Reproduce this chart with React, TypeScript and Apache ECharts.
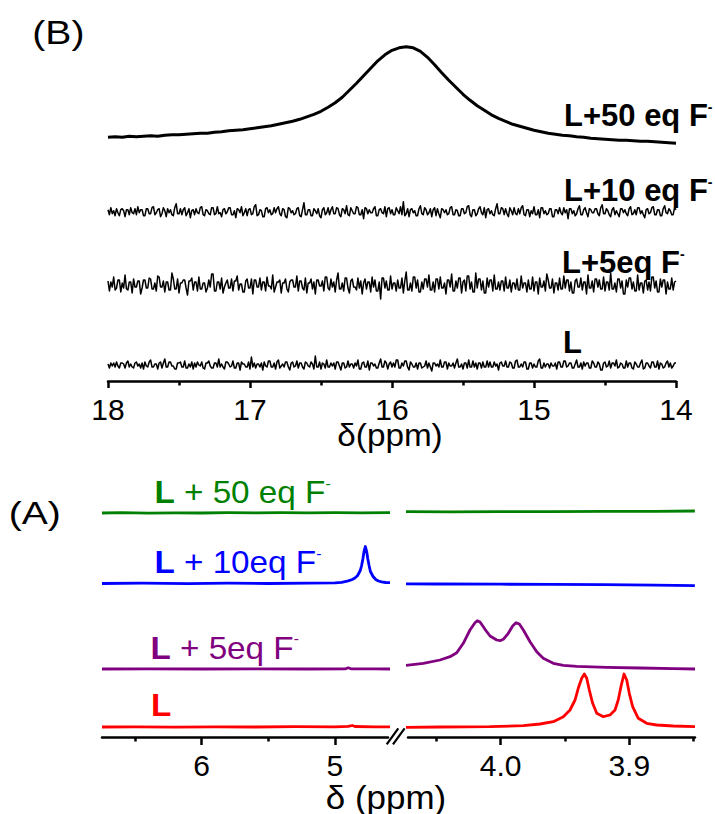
import React, { useEffect, useRef } from "react";
import * as echarts from "echarts";

const FONT = '"Liberation Sans", Arial, Helvetica, sans-serif';

// ---------------- Panel (B): 18 – 14 ppm ----------------
const axisB = { min: 14, max: 18, interval: 1 };
const spanB = { start: 18, end: 14 }; // traces sampled evenly from 18 to 14 ppm

// L + 50 eq F-  (broad N-H signal), 0.05 ppm sampling
const traceL50B = [
  6, 6.5, 6, 7, 6.5, 7, 7.5, 7, 8, 8.5, 8.5, 9, 9.5, 10, 10, 11, 11.5, 12.5, 13, 13.5,
  14.5, 15.5, 16.5, 17.5, 19, 20.5, 22, 24, 26.5, 29, 32, 36, 40.5, 46, 53, 60, 67.5, 75, 82.5, 88.5,
  93, 95.5, 96.5, 95.5, 92, 86, 78.5, 70.5, 63, 56, 49, 43, 37.5, 33, 28.5, 25, 22, 19, 17, 15,
  13, 11.5, 10, 9, 8, 7.5, 6.5, 6, 5, 4.5, 4, 3.5, 3, 3, 2.5, 2, 2, 1.5, 1, 0.5,
  0,
];
// L + 10 eq F-  (noise only), 0.01 ppm sampling
const traceL10B = [
  2, -3, 4, -2, 1, -4, 3, -1, -4, 2, 3, 1, -5, 2, 2, -3, 4, -1, -2, 3,
  -3, 5, -1, 2, 2, -4, -4, 3, 3, -2, -2, 4, 5, -3, -1, 2, 3, -5, -2, 4,
  1, -5, 3, -1, 2, -3, -4, 4, 8, -2, -2, 3, -3, 2, 4, -4, -1, 3, -6, 1,
  2, -3, 3, -1, -2, 4, 5, -3, -4, 2, 1, -2, -3, 4, 4, -3, -2, 5, -2, -1,
  -5, 2, 3, -2, 0, 4, 4, -3, -3, 1, -6, 3, 2, -1, 5, -4, -1, 3, -4, 2,
  3, -3, -2, 5, 7, -4, -3, 2, 1, -5, -5, 3, 4, -1, 2, -3, -2, 4, -1, 3,
  5, -2, -4, 3, 2, -5, -6, 4, 3, -1, 1, -3, -2, 3, 4, -4, -5, 2, 9, -3,
  -3, 2, 2, -4, -4, 3, 1, -2, 3, -4, -6, 2, 4, -3, -1, 4, -3, 2, 5, -2,
  -2, 4, 3, -3, -5, 3, 2, -2, 6, -3, -4, 4, 1, -2, -2, 5, 4, -3, -3, 2,
  -7, 4, 3, -2, 2, -1, -1, 3, 5, -4, -4, 2, 3, -1, -2, 5, -5, 3, 4, -2,
  2, -3, -3, 4, 1, -2, 5, -3, 10, -4, -2, 3, -5, 2, 3, -1, 1, -4, -4, 3,
  6, -2, -3, 4, 2, -3, -1, 3, -5, 2, 4, -4, 3, -2, -6, 3, 2, -1, 2, -3,
  -2, 4, 5, -3, -3, 2, 1, -4, -4, 3, 3, -2, -1, 5, 6, -3, -5, 2, 2, -4,
  -2, 3, 5, -1, -3, 4, -6, 2, 3, -2, 1, -3, -4, 3, 8, -2, -2, 4, 3, -3,
  3, -2, -5, 4, 1, -3, 4, -2, -3, 3, -2, 4, 6, -3, -4, 2, 2, -5, 1, -2,
  5, -3, -3, 2, -6, 4, 4, -2, 1, -3, -2, 3, 3, -5, -5, 2, 2, -2, 4, -1,
  -3, 4, -1, 2, -7, 3, 3, -2, 1, -4, -2, 3, 6, -3, -3, 2, 4, -1, -5, 3,
  2, -1, -1, 3, 3, -2, -4, 4, 7, -2, -2, 3, 1, -3, -5, 2, 4, -3, 1, -2,
  -5, 3, 3, -1, 2, -2, -4, 3, 5, -3, -2, 2, -3, 4, 4, -2, 1, -3, -6, 2,
  3, -2, -1, 4, 5, -3, -3, 2, 2, -4, -4, 3, 6, -1, -2, 3, 1, -3, -3, 4,
  2,
];
// L + 5 eq F-  (noise only), 0.01 ppm sampling
const traceL5B = [
  4, -6, 3, -2, 8, -5, -3, 5, 5, -7, 2, -3, 10, -4, -5, 3, 3, -8, 6, -2,
  -2, 4, 4, -9, -3, 5, 5, -3, -3, 7, 6, -4, -4, 2, -6, 9, 8, -2, -2, 4,
  -7, 3, 3, -5, -5, 12, 6, -4, -4, 6, -8, 2, 2, 5, 5, -3, -10, 4, 4, 7,
  -5, 3, 3, -6, 8, -4, -4, 2, 2, -7, -3, 5, -2, 11, 11, -6, -6, 3, 3, -4,
  7, -8, -2, 2, 5, -3, -3, 6, -6, 4, 4, 9, -5, 1, 1, -7, -7, 4, 6, -3,
  -3, 6, -9, 5, 5, -2, -2, 7, -5, 3, 3, -6, 8, -1, -1, -4, 10, -7, -2, 3,
  3, 5, -8, 2, 2, 6, -4, -7, 3, 5, 5, -2, -2, 9, -6, 4, 4, -3, -5, 7,
  -8, 2, 2, 6, -4, 3, -9, 5, 5, -1, -1, 4, -6, 8, 8, -3, -5, 6, -2, 3,
  -7, 5, 12, -4, -4, 2, -6, 7, 7, -3, -8, 4, 6, -2, -2, -5, 7, -3, 4, -9,
  2, 6, -4, 3, 3, -7, 8, -2, 5, -6, -6, 3, -14, 7, 7, -3, 4, -5, -5, 9,
  -4, 2, 2, -6, 5, -3, -3, 7, -8, 4, 13, -5, -5, 2, -6, 8, 8, -3, 5, -7,
  -7, 3, -4, 6, 6, -2, 10, -5, -5, 3, -7, 6, 6, -4, 8, -3, -3, 2, -9, 5,
  5, -2, 11, -6, -6, 4, -3, 7, 7, -8, 3, 5, -6, 9, 9, -4, 3, -7, -7, 12,
  -3, 6, 6, -5, 4, -8, -8, 7, -2, 5, 5, -6, 10, -4, -4, 3, -5, 4, 4, -6,
  8, -3, -3, 5, -7, 2, 2, -4, 6, -5, -5, 9, -3, 2, 2, -7, 5, -4, -4, 8,
  -6, 3, 3, -9, 7, -2, -2, 4, -6, 11, 5, -3, -3, 6, -8, 2, 2, -5, 7, -4,
  -4, 9, -3, 5, 5, -6, 3, -8, -8, 4, 6, -2, -2, 7, -5, 3, 3, -9, 10, -3,
  -3, 4, -7, 6, 6, -2, 5, -4, -4, 8, -6, 3, 3, -5, 12, -4, -4, 2, -7, 6,
  6, -3, 4, -9, -9, 5, -2, 7, 7, -4, 3, -6, -6, 10, -5, 2, 2, -8, 4, 5,
  -5, 3, -6, 8, 8, -3, 4, -7, -7, 6, -2, 5, 5, -9, 3, -4, -4, 7, -5, 3,
  4,
];
// L  (noise only), 0.01 ppm sampling
const traceLB = [
  1, -3, 2, -1, 2, -2, 3, -1, -3, 2, 2, 1, -3, 2, 4, -2, 1, -2, -3, 2,
  3, -1, 1, -3, 2, -4, 3, -1, -2, 3, 5, -2, -2, 1, 1, -4, 2, 3, -3, 2,
  6, -2, -2, 3, 3, -1, -1, -4, -4, 2, 2, 3, -2, -2, 4, -3, -3, 1, -2, 3,
  -4, 2, -2, 3, 0, -1, 3, -3, -4, 2, 2, 4, -1, -3, -3, 2, 2, -2, 6, -2,
  1, -2, -4, 3, 3, 1, -2, -1, 4, -3, -3, 2, 2, -5, 3, 1, 1, -2, -2, 3,
  -4, 8, -2, 2, -3, 1, 1, -2, 2, -5, 3, -1, -2, 4, 4, -2, -2, 2, -4, 3,
  5, -3, -1, 1, -2, 3, 3, -2, -5, 2, 3, -2, -1, 4, -3, 2, 2, -2, -4, 3,
  2, -1, -2, 3, 1, -4, 9, -2, -2, 3, -4, 2, 1, -3, 5, -2, -2, 2, -1, 2,
  -4, 3, 3, -1, -5, 2, 2, -3, -2, 4, -2, 1, 1, -3, 2, -1, 5, -4, -4, 2,
  3, -2, -2, 4, -5, 2, 2, -1, 1, -3, -3, 2, 6, -2, -2, 4, 2, -4, 1, 3,
  -2, 2, -2, 5, 5, -3, -3, 2, -1, 4, 4, -2, -5, 3, 1, -2, -2, 2, -4, 2,
  2, -3, -2, -1, 4, -3, 2, -2, -6, 2, 2, -1, 1, -2, 5, -2, -2, 3, 3, -4,
  2, -1, -1, 2, -3, 2, 6, -2, -2, 1, -4, 2, 2, -3, 5, -2, -2, 4, -2, 2,
  -4, 2, 2, -3, 3, -2, -2, 4, -2, 3, -2, -2, 3, -1, 1, -5, 2, 3, -1, -1,
  4, -2, -2, 3, 2, -3, -3, 4, 5, -2, -2, 1, -2, 3, 3, -4, -4, 2, 2, -3,
  1, -2, -2, 4, 6, -3, -3, 2, -2, 1, 1, -3, 2, -1, -1, 2, -4, 3, 3, -2,
  -2, 4, 4, -2, -1, 2, 2, -3, -3, 1, 5, -2, -2, 2, -4, 3, -1, 2, 2, -3,
  -3, 4, 2, -2, -2, 3, 1, -5, -5, 2, 3, -2, -1, 4, -3, 2, 2, -1, 5, -3,
  -2, 2, 1, -3, -3, 4, -2, 2, 2, -3, -4, 3, 1, -2, -2, 2, 5, -4, -3, 2,
  2, -1, -3, 3, 3, -2, -2, 4, -4, 2, 1, -3, -2, 2, 4, -2, 2, -3, -1, 2,
  2,
];
const labelsB = ["L+50 eq F", "L+10 eq F", "L+5eq F", "L"];

// ---------------- Panel (A): broken axis ----------------
const axisALeft = { min: 4.602, max: 6.748, major: [6, 5], minor: [6.5, 5.5] };
const axisARight = { min: 3.8489, max: 4.0721, major: [4.0, 3.9], minor: [4.05, 3.95, 3.85] };

// [ppm, intensity] pairs
const greenLeft = [
  [6.748, 0], [6.6, 0.3], [6.4, -0.1], [6.2, 0.2], [6.0, 0], [5.8, 0.3], [5.6, 0.1],
  [5.4, 0.3], [5.2, 0.1], [5.0, 0.4], [4.8, 0.2], [4.6, 0.4], [4.565, 0.3],
];
const greenRight = [
  [4.0752, 1.3], [4.04, 1.2], [4.0, 1.4], [3.96, 1.3], [3.92, 1.6], [3.88, 1.7], [3.849, 2],
];
const blueLeft = [
  [6.748, 0], [6.45, 0.3], [6.1, -0.2], [5.8, 0.3], [5.5, 0], [5.2, 0.3], [5.0, 0.6],
  [4.95, 1.2], [4.9, 2.6], [4.87, 4], [4.85, 5.5], [4.83, 8], [4.81, 13], [4.8, 18],
  [4.79, 25], [4.782, 32], [4.772, 37], [4.762, 32], [4.754, 25], [4.744, 18], [4.734, 12],
  [4.714, 7], [4.694, 4], [4.674, 2.5], [4.65, 1.6], [4.62, 1], [4.555, 0.6],
];
const blueRight = [
  [4.0752, -0.3], [4.05, -0.5], [4.0, -0.7], [3.96, -0.9], [3.92, -1.2], [3.88, -1.6], [3.849, -2.2],
];
const purpleLeft = [
  [6.748, 0], [6.4, 0.2], [6.0, 0], [5.6, 0.2], [5.2, 0], [4.92, 0.2], [4.9, 1.2],
  [4.88, 0.2], [4.7, 0.1], [4.565, 0],
];
const purpleRight = [
  [4.0752, 3.3], [4.0602, 5.7], [4.0472, 9], [4.0394, 12.3], [4.0342, 16.3], [4.0291, 25.7],
  [4.0239, 39], [4.02, 46.3], [4.0182, 48.3], [4.0161, 47], [4.0122, 39.7], [4.0083, 33],
  [4.0031, 29], [4.0005, 28.3], [3.998, 29.7], [3.9941, 35.7], [3.9907, 43], [3.9881, 46.3],
  [3.9855, 45], [3.9824, 39], [3.9772, 27.3], [3.972, 17.3], [3.9669, 10.7], [3.9591, 5.7],
  [3.9513, 3.7], [3.9409, 2.7], [3.9176, 1.7], [3.8917, 1], [3.8658, 0.3], [3.8489, 0],
];
const redLeft = [
  [6.748, 0], [6.5, 0.2], [6.2, -0.1], [5.9, 0.2], [5.6, 0], [5.3, 0.3], [5.0, 0.2],
  [4.9, 0.6], [4.87, 1.5], [4.85, 0.5], [4.7, 0.2], [4.565, 0.1],
];
const redRight = [
  [4.0752, -0.3], [4.0472, 0], [4.0083, 0.3], [3.9824, 1.3], [3.9694, 3], [3.9591, 5.3],
  [3.9513, 10.3], [3.9461, 17], [3.9422, 27], [3.9397, 38.7], [3.937, 48.7], [3.935, 53],
  [3.9331, 48.7], [3.9311, 37], [3.9285, 23.7], [3.9253, 13.7], [3.9202, 10.3], [3.915, 12],
  [3.9111, 17], [3.9086, 27], [3.9065, 40.3], [3.9041, 53], [3.902, 47], [3.9, 33.7],
  [3.8974, 20.3], [3.893, 8.7], [3.8865, 3.7], [3.8787, 2], [3.8658, 1], [3.8489, 0.3],
];
const labelsA = ["L + 50 eq F", "L + 10eq F", "L + 5eq F", "L"];

// ---------------- layout (pixels) ----------------
const GB = { left: 108, top: 30, width: 568, height: 351 };
const GAL = { left: 102, top: 480, width: 286, height: 257 };
const GAR = { left: 408, top: 480, width: 287, height: 257 };
const stackB = { L50: 237.7, L10: 169.3, L5: 96, L: 16 };
const stackA = { green: 224, blue: 153.5, purple: 68, red: 10 };
const COLORS = { green: "#008000", blue: "#0000ff", purple: "#800080", red: "#ff0000" };

const fromRange = (vals: number[], start: number, end: number, base: number) => {
  const step = (start - end) / (vals.length - 1);
  return vals.map((v, i) => [Number((start - i * step).toFixed(4)), v + base]);
};
const fromPairs = (pts: number[][], base: number) => pts.map(([x, v]) => [x, v + base]);

const lineSeries = (data: number[][], xi: number, yi: number, color: string, width: number) => ({
  type: "line",
  data,
  xAxisIndex: xi,
  yAxisIndex: yi,
  showSymbol: false,
  symbol: "none",
  silent: true,
  clip: false,
  lineStyle: { color, width, join: "round" },
});

const tickLabelStyle = { color: "#000", fontSize: 30, lineHeight: 24, fontFamily: FONT };

const label = (
  x: number,
  y: number,
  text: string,
  color: string,
  fs: number,
  boldAll: boolean,
  scaleX: number
) => ({
  type: "text",
  x,
  y,
  scaleX,
  silent: true,
  style: {
    text,
    fill: color,
    fontFamily: FONT,
    fontSize: fs,
    fontWeight: boldAll ? "bold" : "normal",
    lineHeight: fs,
    align: "left",
    verticalAlign: "middle",
    textAlign: "left",
    textVerticalAlign: "middle",
    rich: {
      b: { fontWeight: "bold", fontSize: fs, fontFamily: FONT, fill: color, lineHeight: fs },
      s: {
        fontWeight: boldAll ? "bold" : "normal",
        fontSize: Math.round(fs * 0.46),
        fontFamily: FONT,
        fill: color,
        lineHeight: 6,
        verticalAlign: "top",
      },
    },
  },
});

const plainText = (x: number, y: number, text: string, fs: number, align: string, scaleX: number) => ({
  type: "text",
  x,
  y,
  scaleX,
  silent: true,
  style: {
    text,
    fill: "#000",
    fontFamily: FONT,
    fontSize: fs,
    lineHeight: 24,
    align,
    verticalAlign: "middle",
    textAlign: align,
    textVerticalAlign: "middle",
  },
});

function buildOption() {
  const axisLineStyle = { color: "#000", width: 2.5 };
  const tickLineStyle = { color: "#000", width: 2.5 };

  const xAxis: any[] = [
    {
      gridIndex: 0,
      type: "value",
      min: axisB.min,
      max: axisB.max,
      interval: axisB.interval,
      inverse: true,
      position: "bottom",
      axisLine: { onZero: false, lineStyle: axisLineStyle },
      axisTick: { show: true, length: 7, lineStyle: tickLineStyle },
      minorTick: { show: true, splitNumber: 2, length: 4.5, lineStyle: tickLineStyle },
      axisLabel: { ...tickLabelStyle, margin: 16, showMinLabel: true, showMaxLabel: true },
      splitLine: { show: false },
      minorSplitLine: { show: false },
    },
    {
      gridIndex: 1,
      type: "value",
      min: axisALeft.min,
      max: axisALeft.max,
      inverse: true,
      position: "bottom",
      offset: 0,
      axisLine: { onZero: false, lineStyle: axisLineStyle },
      axisTick: { show: true, length: 8, lineStyle: tickLineStyle, customValues: axisALeft.major },
      axisLabel: {
        ...tickLabelStyle,
        margin: 16.7,
        customValues: axisALeft.major,
        formatter: (v: number) => String(v),
      },
      splitLine: { show: false },
    },
    {
      gridIndex: 1,
      type: "value",
      min: axisALeft.min,
      max: axisALeft.max,
      inverse: true,
      position: "bottom",
      offset: 0,
      axisLine: { show: false, onZero: false },
      axisTick: { show: true, length: 4.5, lineStyle: tickLineStyle, customValues: axisALeft.minor },
      axisLabel: { show: false },
      splitLine: { show: false },
    },
    {
      gridIndex: 2,
      type: "value",
      min: axisARight.min,
      max: axisARight.max,
      inverse: true,
      position: "bottom",
      offset: 0,
      axisLine: { onZero: false, lineStyle: axisLineStyle },
      axisTick: { show: true, length: 8, lineStyle: tickLineStyle, customValues: axisARight.major },
      axisLabel: {
        ...tickLabelStyle,
        margin: 16.7,
        customValues: axisARight.major,
        formatter: (v: number) => v.toFixed(1),
      },
      splitLine: { show: false },
    },
    {
      gridIndex: 2,
      type: "value",
      min: axisARight.min,
      max: axisARight.max,
      inverse: true,
      position: "bottom",
      offset: 0,
      axisLine: { show: false, onZero: false },
      axisTick: { show: true, length: 4.5, lineStyle: tickLineStyle, customValues: axisARight.minor },
      axisLabel: { show: false },
      splitLine: { show: false },
    },
  ];

  const yAxis = [
    { gridIndex: 0, type: "value", min: 0, max: GB.height, show: false },
    { gridIndex: 1, type: "value", min: 0, max: GAL.height, show: false },
    { gridIndex: 2, type: "value", min: 0, max: GAR.height, show: false },
  ];

  const series = [
    lineSeries(fromRange(traceL50B, spanB.start, spanB.end, stackB.L50), 0, 0, "#000", 3),
    lineSeries(fromRange(traceL10B, spanB.start, spanB.end, stackB.L10), 0, 0, "#000", 1.5),
    lineSeries(fromRange(traceL5B, spanB.start, spanB.end, stackB.L5), 0, 0, "#000", 1.5),
    lineSeries(fromRange(traceLB, spanB.start, spanB.end, stackB.L), 0, 0, "#000", 1.5),

    lineSeries(fromPairs(greenLeft, stackA.green), 1, 1, COLORS.green, 2.8),
    lineSeries(fromPairs(blueLeft, stackA.blue), 1, 1, COLORS.blue, 2.8),
    lineSeries(fromPairs(purpleLeft, stackA.purple), 1, 1, COLORS.purple, 2.8),
    lineSeries(fromPairs(redLeft, stackA.red), 1, 1, COLORS.red, 2.8),

    lineSeries(fromPairs(greenRight, stackA.green), 3, 2, COLORS.green, 2.8),
    lineSeries(fromPairs(blueRight, stackA.blue), 3, 2, COLORS.blue, 2.8),
    lineSeries(fromPairs(purpleRight, stackA.purple), 3, 2, COLORS.purple, 2.8),
    lineSeries(fromPairs(redRight, stackA.red), 3, 2, COLORS.red, 2.8),
  ];

  const graphic = [
    plainText(32.3, 32.5, "(B)", 34, "left", 1.15),
    plainText(8.7, 513.4, "(A)", 32, "left", 1.22),
    plainText(390, 435, "δ(ppm)", 32, "center", 1.04),
    plainText(386, 797, "δ (ppm)", 33, "center", 1.06),

    label(564, 115.9, labelsB[0] + "{s|-}", "#000", 31, true, 1),
    label(564, 190.9, labelsB[1] + "{s|-}", "#000", 31, true, 1),
    label(562, 262.6, labelsB[2] + "{s|-}", "#000", 31, true, 1),
    label(563, 342.6, labelsB[3], "#000", 31, true, 1),

    label(154.4, 492, "{b|L}" + labelsA[0].slice(1) + "{s|-}", COLORS.green, 32, false, 1.04),
    label(154.4, 562, "{b|L}" + labelsA[1].slice(1) + "{s|-}", COLORS.blue, 32, false, 1.04),
    label(150.4, 647.3, "{b|L}" + labelsA[2].slice(1) + "{s|-}", COLORS.purple, 32, false, 1.04),
    label(151, 704.7, "{b|" + labelsA[3] + "}", COLORS.red, 32, false, 1.04),

    {
      type: "line",
      silent: true,
      shape: { x1: 386.7, y1: 744.3, x2: 398.3, y2: 728.3 },
      style: { stroke: "#000", lineWidth: 2.2 },
    },
    {
      type: "line",
      silent: true,
      shape: { x1: 393, y1: 744.3, x2: 404.6, y2: 728.3 },
      style: { stroke: "#000", lineWidth: 2.2 },
    },
  ];

  return {
    animation: false,
    backgroundColor: "#fff",
    grid: [
      { ...GB, containLabel: false, outerBoundsMode: "none" },
      { ...GAL, containLabel: false, outerBoundsMode: "none" },
      { ...GAR, containLabel: false, outerBoundsMode: "none" },
    ],
    xAxis,
    yAxis,
    series,
    graphic,
  };
}

export default function App() {
  const ref = useRef<HTMLDivElement>(null);
  useEffect(() => {
    document.body.style.margin = "0";
    const chart = echarts.init(ref.current!, undefined, { renderer: "svg" });
    chart.setOption(buildOption() as any);
    return () => chart.dispose();
  }, []);
  return <div ref={ref} style={{ width: 715, height: 814 }} />;
}
